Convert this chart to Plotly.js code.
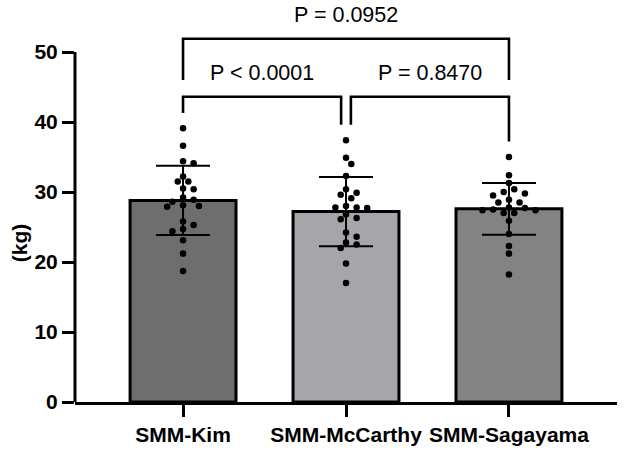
<!DOCTYPE html>
<html>
<head>
<meta charset="utf-8">
<script src="https://cdn.plot.ly/plotly-3.0.1.min.js"></script>
<style>
  html, body { margin: 0; padding: 0; background: #fff; }
  #chart { width: 624px; height: 451px; }
</style>
</head>
<body>
<div id="chart"></div>
<script>
// values (kg)
const categories = ["SMM-Kim", "SMM-McCarthy", "SMM-Sagayama"];
const kimValues = [39.1, 36.6, 34.1, 34.4, 32.2, 31.5, 31.5, 30.4, 30.5, 29.2, 28.1,
                   28.6, 28.9, 27.9, 28.0, 25.8, 25.3, 24.7, 24.4, 23.1, 21.2, 18.7];
const mccarthyValues = [37.4, 34.9, 34.0, 32.3, 30.4, 29.6, 29.9, 29.1, 28.0, 27.8, 27.7,
                        27.8, 26.8, 26.1, 26.3, 23.6, 24.2, 22.5, 22.0, 22.8, 19.8, 17.0];
const sagayamaValues = [35.0, 32.4, 31.3, 30.4, 30.0, 29.8, 29.5, 28.9, 28.5, 28.5, 27.7,
                        27.0, 27.4, 27.8, 27.0, 27.4, 27.5, 25.9, 24.0, 22.3, 21.2, 18.2];
const means = [28.8, 27.2, 27.6];
const sds = [4.95, 4.95, 3.7];
const barColors = ["#6e6e6e", "#a6a6aa", "#838383"];

// comparisons
const compFrom = [0, 1, 0];
const compTo = [1, 2, 2];
const compY = [43.6, 43.6, 51.9];
const pLabels = ["P < 0.0001", "P = 0.8470", "P = 0.0952"];

const yTicks = [0, 10, 20, 30, 40, 50];

// layout geometry
const W = 624, H = 451;
const margin = { l: 75, r: 7, t: 0, b: 49 };
const xRange = [-0.663, 2.663];
const pxPerKg = 7;
const yRange = [0, (H - margin.t - margin.b) / pxPerKg];
const pxPerX = (W - margin.l - margin.r) / (xRange[1] - xRange[0]);

const groups = [kimValues, mccarthyValues, sagayamaValues];

// simple beeswarm so dots do not sit on each other
function swarm(values, center) {
  const step = 5.3, diam = 7.2;
  const placed = [];
  const order = values.map((v, i) => i).sort((a, b) => values[b] - values[a]);
  const xs = new Array(values.length);
  order.forEach(i => {
    const yp = values[i] * pxPerKg;
    for (let k = 0; k < 20; k++) {
      const off = (k % 2 ? 1 : -1) * Math.ceil(k / 2) * step;
      const ok = placed.every(p => Math.hypot(p[0] - off, p[1] - yp) >= diam);
      if (ok) {
        placed.push([off, yp]);
        xs[i] = center + off / pxPerX;
        break;
      }
    }
  });
  return xs;
}

const font = "Liberation Sans, Arial, sans-serif";

const traces = [{
  type: "bar",
  x: [0, 1, 2],
  y: means,
  width: 0.65,
  marker: { color: barColors, line: { color: "#000", width: 3 } },
  error_y: { type: "data", array: sds, visible: true, color: "#000", thickness: 2, width: 27 },
  hoverinfo: "none"
}];

groups.forEach((vals, g) => {
  traces.push({
    type: "scatter",
    mode: "markers",
    x: swarm(vals, g),
    y: vals,
    marker: { color: "#000", size: 6.5 },
    hoverinfo: "none"
  });
});

// brackets
const shapes = [];
const annotations = [];
const groupMax = groups.map(v => Math.max(...v));

function legBottom(c, g) {
  let floor = groupMax[g] + 2.2;
  compY.forEach((y, j) => {
    if (j !== c && y < compY[c] && compFrom[j] <= g && compTo[j] >= g) {
      floor = Math.max(floor, y + 2.4);
    }
  });
  return floor;
}

function endShift(c, g, side) {
  // pull in where a bracket on the same level shares this end
  const shared = compY.some((y, j) => j !== c && y === compY[c] &&
    (compFrom[j] === g || compTo[j] === g));
  return shared ? side * 0.03 : 0;
}

compFrom.forEach((a, c) => {
  const b = compTo[c];
  const x0 = a + endShift(c, a, 1);
  const x1 = b + endShift(c, b, -1);
  const y = compY[c];
  shapes.push({
    type: "path", xref: "x", yref: "y",
    path: `M ${x0},${legBottom(c, a)} L ${x0},${y} L ${x1},${y} L ${x1},${legBottom(c, b)}`,
    line: { color: "#000", width: 2.6 }
  });
  annotations.push({
    x: (x0 + x1) / 2, y: y + 3.4, xref: "x", yref: "y",
    text: pLabels[c], showarrow: false,
    font: { family: font, size: 21.5, color: "#000" }
  });
});

// y axis line only up to 50
shapes.push({
  type: "line", xref: "paper", yref: "y",
  x0: 0, x1: 0, y0: -0.2, y1: yTicks[yTicks.length - 1],
  line: { color: "#000", width: 3 }
});

annotations.push({
  xref: "paper", yref: "y", x: -0.103, y: 22.7,
  xanchor: "center", yanchor: "middle",
  text: "(kg)", textangle: -90, showarrow: false,
  font: { family: font, size: 21, color: "#000", weight: 700 }
});

const layout = {
  width: W, height: H,
  margin: margin,
  paper_bgcolor: "#fff", plot_bgcolor: "#fff",
  showlegend: false,
  barmode: "overlay",
  xaxis: {
    range: xRange,
    tickvals: [0, 1, 2], ticktext: categories,
    showline: true, linecolor: "#000", linewidth: 3,
    ticks: "outside", ticklen: 12, tickwidth: 3, tickcolor: "#000",
    showgrid: false, zeroline: false,
    tickfont: { family: font, size: 21, color: "#000", weight: 700 }
  },
  yaxis: {
    range: yRange,
    tickvals: yTicks,
    showline: false,
    ticks: "outside", ticklen: 12, tickwidth: 3, tickcolor: "#000",
    showgrid: false, zeroline: false,
    tickfont: { family: font, size: 21, color: "#000", weight: 700 }
  },
  shapes: shapes,
  annotations: annotations
};

Plotly.newPlot("chart", traces, layout, { staticPlot: true, displayModeBar: false });
</script>
</body>
</html>
